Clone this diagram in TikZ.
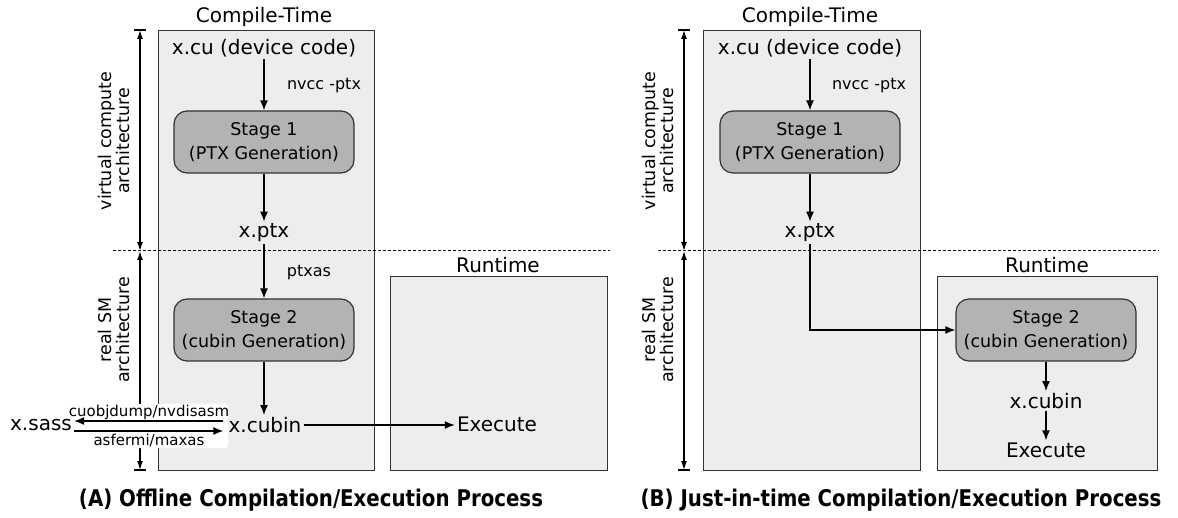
\documentclass[tikz,border=0pt]{standalone}
\usepackage{fontspec}
\setmainfont{DejaVu Sans}
\newfontfamily\capfont[FakeStretch=0.86]{DejaVu Sans}
\usetikzlibrary{arrows.meta,calc}
\definecolor{boxfill}{HTML}{EDEDED}
\definecolor{stagefill}{HTML}{B3B3B3}
\definecolor{edge}{HTML}{333333}
\begin{document}
\begin{tikzpicture}[x=1pt,y=-1pt,
  container/.style={draw=edge, fill=boxfill, line width=1.2pt, inner sep=0pt, anchor=north west},
  stagebox/.style={draw=edge, fill=stagefill, line width=1.2pt, rounded corners=13pt, minimum width=180pt, minimum height=62pt, align=center, inner sep=0pt, font=\fontsize{17.5}{24.5}\selectfont},
  big/.style={font=\fontsize{20}{24}\selectfont, inner sep=2pt},
  small/.style={font=\fontsize{15}{18}\selectfont, inner sep=1pt},
  smallish/.style={font=\fontsize{16}{18}\selectfont, inner sep=1pt},
  side/.style={font=\fontsize{17.5}{18.5}\selectfont, rotate=90, align=center},
  flow/.style={-{Latex[length=10pt,width=8pt]}, line width=1.5pt},
  dim/.style={{Latex[length=9pt,width=6pt]}-{Latex[length=9pt,width=6pt]}, line width=1.2pt},
  bar/.style={line width=1.2pt},
  sep/.style={dash pattern=on 3pt off 2pt, line width=1pt},
  whitebg/.style={fill=white, rounded corners=3pt, inner sep=0pt},
  captext/.style={font=\capfont\bfseries\fontsize{23}{26}\selectfont}
]
\useasboundingbox (0,0) rectangle (1178,518);

% ---------------- Panel A ----------------
\node[container, minimum width=216pt, minimum height=440pt] (ctA) at (158,30) {};
\node[container, minimum width=217pt, minimum height=194pt] (rtA) at (390,276) {};
\node[big] (ctlA) at (264,17) {Compile-Time};
\node[big] (rtlA) at (498,265) {Runtime};

\coordinate (dtA) at (140,30);
\coordinate (dmA) at (140,251);
\coordinate (dbA) at (140,470);
\draw[dim] (dtA) -- (dmA);
\draw[dim] (dmA) -- (dbA);
\draw[bar] ($(dtA)+(-6,0)$) -- ($(dtA)+(6,0)$);
\draw[bar] ($(dbA)+(-6,0)$) -- ($(dbA)+(6,0)$);
\node[side] (vlA) at (114,141) {virtual compute\\architecture};
\node[side] (rlA) at (114,330) {real SM\\architecture};
\coordinate (sepA1) at (113,251);
\coordinate (sepA2) at (610,251);
\draw[sep] (sepA1) -- (sepA2);

\node[whitebg, minimum width=160pt, minimum height=44pt] (wbA) at (148,426) {};

\node[big] (cuA) at (264,48) {x.cu (device code)};
\node[stagebox] (s1A) at (264,142) {Stage 1\\(PTX Generation)};
\node[big] (ptxA) at (264,233) {x.ptx};
\node[stagebox] (s2A) at (264,330) {Stage 2\\(cubin Generation)};
\node[big] (cubinA) at (265,425) {x.cubin};
\node[big] (execA) at (497,424) {Execute};
\node[big] (sassA) at (41,425) {x.sass};

\node[smallish] (nvA) at (324,86) {nvcc -ptx};
\node[smallish] (pxA) at (309,273) {ptxas};
\node[small] (cuoA) at (149,412) {cuobjdump/nvdisasm};
\node[small] (asfA) at (149,440) {asfermi/maxas};

\draw[flow] (cuA) -- (s1A);
\draw[flow] (s1A) -- (ptxA);
\draw[flow] (ptxA) -- (s2A);
\draw[flow] (s2A.south) -- (s2A.south |- cubinA.north);
\draw[flow] (cubinA.east) -- (cubinA.east -| execA.west);
\draw[flow] ($(cubinA.west)+(-3,-4)$) -- ($(sassA.east)+(0,-4)$);
\draw[flow] ($(sassA.east)+(0,6)$) -- ($(cubinA.west)+(-3,6)$);

% ---------------- Panel B ----------------
\node[container, minimum width=217pt, minimum height=440pt] (ctB) at (703,30) {};
\node[container, minimum width=220pt, minimum height=194pt] (rtB) at (937,276) {};
\node[big] (ctlB) at (810,17) {Compile-Time};
\node[big] (rtlB) at (1047,265) {Runtime};

\coordinate (dtB) at (684,30);
\coordinate (dmB) at (684,251);
\coordinate (dbB) at (684,470);
\draw[dim] (dtB) -- (dmB);
\draw[dim] (dmB) -- (dbB);
\draw[bar] ($(dtB)+(-6,0)$) -- ($(dtB)+(6,0)$);
\draw[bar] ($(dbB)+(-6,0)$) -- ($(dbB)+(6,0)$);
\node[side] (vlB) at (658,141) {virtual compute\\architecture};
\node[side] (rlB) at (658,330) {real SM\\architecture};
\coordinate (sepB1) at (658,251);
\coordinate (sepB2) at (1159,251);
\draw[sep] (sepB1) -- (sepB2);

\node[big] (cuB) at (810,48) {x.cu (device code)};
\node[stagebox] (s1B) at (810,142) {Stage 1\\(PTX Generation)};
\node[big] (ptxB) at (810,233) {x.ptx};
\node[stagebox] (s2B) at (1046,330) {Stage 2\\(cubin Generation)};
\node[big] (cubinB) at (1046,401) {x.cubin};
\node[big] (execB) at (1046,450) {Execute};

\node[smallish] (nvB) at (869,86) {nvcc -ptx};

\draw[flow] (cuB) -- (s1B);
\draw[flow] (s1B) -- (ptxB);
\draw[flow] (ptxB.south) |- (s2B.west);
\draw[flow] (s2B) -- (cubinB);
\draw[flow] (cubinB) -- (execB);

% ---------------- Captions ----------------
\node[captext] (capA) at (311,500) {(A) Offline Compilation/Execution Process};
\node[captext] (capB) at (901,500) {(B) Just-in-time Compilation/Execution Process};
\end{tikzpicture}
\end{document}
